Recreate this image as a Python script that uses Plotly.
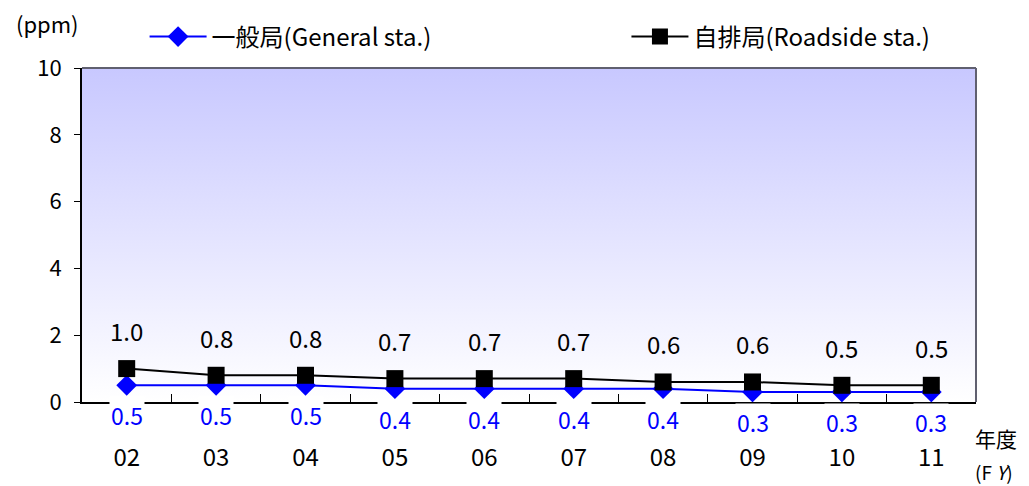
import plotly.graph_objects as go

years = ["02", "03", "04", "05", "06", "07", "08", "09", "10", "11"]
general = [0.5, 0.5, 0.5, 0.4, 0.4, 0.4, 0.4, 0.3, 0.3, 0.3]
roadside = [1.0, 0.8, 0.8, 0.7, 0.7, 0.7, 0.6, 0.6, 0.5, 0.5]
yticks = [0, 2, 4, 6, 8, 10]

idx = list(range(len(years)))
FONT = "Noto Sans CJK JP, Noto Sans, sans-serif"
x0, x1 = -0.5, len(years) - 0.5
y0, y1 = yticks[0], yticks[-1]

fig = go.Figure()

# gradient background
fig.add_trace(go.Scatter(
    x=[x0, x1, x1, x0, x0], y=[y0, y0, y1, y1, y0],
    mode="none", fill="toself",
    fillgradient=dict(type="vertical",
                      colorscale=[[0, "#ffffff"], [1, "#c8c8ff"]]),
    hoverinfo="skip", showlegend=False))

fig.add_trace(go.Scatter(
    x=idx, y=general, name="一般局(General sta.)",
    mode="lines+markers", legend="legend",
    line=dict(color="#0000ff", width=2),
    marker=dict(symbol="diamond", size=16, color="#0000ff")))

fig.add_trace(go.Scatter(
    x=idx, y=roadside, name="自排局(Roadside sta.)",
    mode="lines+markers", legend="legend2",
    line=dict(color="#000000", width=2),
    marker=dict(symbol="square", size=17, color="#000000")))

annotations = []
for i, v in zip(idx, roadside):
    annotations.append(dict(x=i, y=v, text=f"{v:.1f}", showarrow=False,
                            yshift=38, font=dict(size=24, color="#000000", family=FONT)))
for i, v in zip(idx, general):
    annotations.append(dict(x=i, y=v, text=f"{v:.1f}", showarrow=False,
                            yshift=-30, bgcolor="#ffffff", borderpad=1,
                            font=dict(size=23, color="#0000ff", family=FONT)))

annotations += [
    dict(xref="paper", yref="paper", x=-0.076, y=1.134, xanchor="left", yanchor="middle",
         text="(ppm)", showarrow=False, font=dict(size=22, color="#000", family=FONT)),
    dict(xref="paper", yref="paper", x=0.9966, y=-0.108, xanchor="left", yanchor="middle",
         text="年度", showarrow=False, font=dict(size=21, color="#000", family=FONT)),
    dict(xref="paper", yref="paper", x=0.9966, y=-0.207, xanchor="left", yanchor="middle",
         text="(F <i>Y</i>)", showarrow=False, font=dict(size=19, color="#000", family=FONT)),
]

legend_common = dict(orientation="h", yanchor="middle", bgcolor="rgba(0,0,0,0)",
                     font=dict(size=24, family=FONT), xanchor="left", itemwidth=57)

fig.update_layout(
    width=1021, height=478,
    margin=dict(l=74, r=53, t=60, b=84, autoexpand=False),
    paper_bgcolor="#ffffff", plot_bgcolor="rgba(0,0,0,0)",
    font=dict(family=FONT, size=22, color="#000"),
    showlegend=True,
    legend=dict(x=0.070, y=1.093, **legend_common),
    legend2=dict(x=0.609, y=1.093, **legend_common),
    annotations=annotations,
    shapes=[
        dict(type="line", xref="paper", yref="paper", x0=0, x1=1, y0=1, y1=1,
             line=dict(color="#606070", width=2)),
        dict(type="line", xref="paper", yref="paper", x0=1, x1=1, y0=0, y1=1,
             line=dict(color="#606070", width=2)),
    ],
)

fig.update_xaxes(
    range=[x0, x1], tickmode="array", tickvals=idx, ticktext=years,
    ticks="", ticklabelstandoff=33, showgrid=False, zeroline=False,
    showline=True, linecolor="#000", linewidth=2,
    tickfont=dict(size=24, family=FONT),
    minor=dict(tickmode="array", tickvals=[i + 0.5 for i in idx[:-1]],
               ticks="inside", ticklen=8, tickcolor="#000", tickwidth=1, showgrid=False),
)
fig.update_yaxes(
    range=[y0, y1], tickmode="array", tickvals=yticks,
    ticks="outside", ticklen=6, tickcolor="#000", ticklabelstandoff=8,
    showgrid=False, zeroline=False, showline=True, linecolor="#000", linewidth=2,
    tickfont=dict(size=22, family=FONT),
)

fig.write_html("out.html")
